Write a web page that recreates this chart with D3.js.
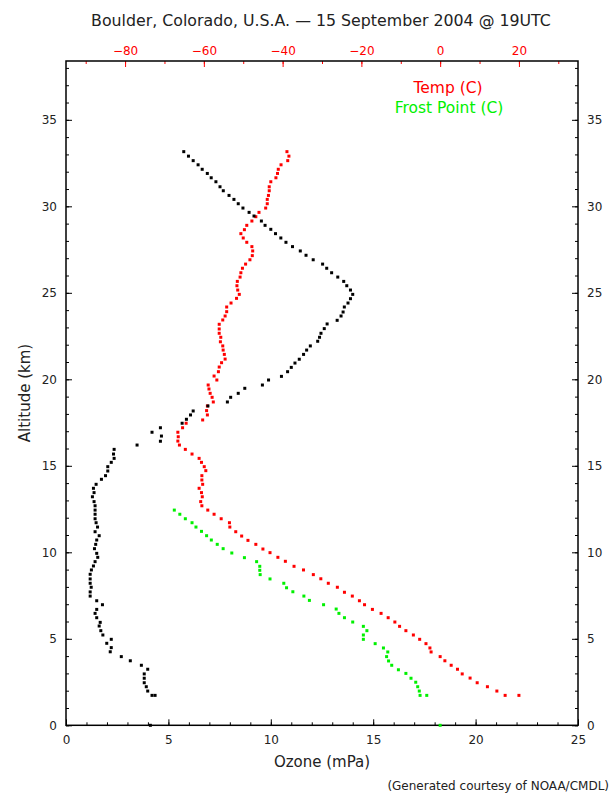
<!DOCTYPE html>
<html>
<head>
<meta charset="utf-8">
<script src="https://cdn.jsdelivr.net/npm/d3@7"></script>
<style>
  body { margin: 0; background: #fff; }
  text { font-family: "DejaVu Sans", sans-serif; }
</style>
</head>
<body>
<svg id="chart" width="611" height="794"></svg>
<script>
// ozone sounding (altitude km, ozone mPa)
var ozoneAlt = [33.16, 32.9, 32.64, 32.4, 32.14, 31.9, 31.65, 31.42, 31.13, 30.9, 30.63, 30.4, 30.15, 29.9, 29.65, 29.44, 29.15, 28.9, 28.67, 28.42, 28.17, 27.92, 27.67, 27.42, 27.17, 26.91, 26.66, 26.42, 26.16, 25.91, 25.66, 25.41, 25.16, 24.91, 24.66, 24.41, 24.18, 23.89, 23.66, 23.41, 23.2, 22.93, 22.66, 22.43, 22.2, 21.93, 21.69, 21.44, 21.16, 20.94, 20.69, 20.44, 20.17, 19.96, 19.67, 19.48, 19.19, 18.96, 18.69, 18.46, 18.17, 17.94, 17.69, 17.46, 17.2, 16.94, 16.72, 16.42, 16.2, 15.95, 15.68, 15.43, 15.2, 14.95, 14.7, 14.43, 14.22, 13.93, 13.7, 13.45, 13.21, 12.93, 12.69, 12.44, 12.2, 11.94, 11.71, 11.46, 11.19, 10.96, 10.71, 10.46, 10.21, 9.94, 9.71, 9.46, 9.21, 8.98, 8.73, 8.46, 8.21, 7.98, 7.71, 7.47, 7.2, 6.97, 6.7, 6.47, 6.22, 5.95, 5.74, 5.47, 5.22, 4.97, 4.74, 4.49, 4.25, 3.97, 3.73, 3.47, 3.24, 2.97, 2.72, 2.46, 2.23, 1.98, 1.73, 1.73, 0];
var ozoneVal = [5.75, 5.98, 6.21, 6.45, 6.65, 6.9, 7.09, 7.32, 7.52, 7.68, 7.96, 8.2, 8.41, 8.64, 8.94, 9.18, 9.54, 9.72, 10.0, 10.23, 10.49, 10.74, 11.06, 11.44, 11.72, 12.07, 12.53, 12.73, 12.97, 13.27, 13.56, 13.71, 13.89, 14.0, 13.89, 13.77, 13.59, 13.53, 13.43, 13.24, 12.75, 12.61, 12.45, 12.38, 12.29, 11.93, 11.75, 11.6, 11.39, 11.18, 11.0, 10.82, 10.52, 9.89, 9.59, 8.73, 8.41, 8.04, 7.88, 6.93, 6.21, 6.08, 5.88, 5.67, 4.61, 4.2, 4.66, 4.61, 3.47, 2.35, 2.32, 2.35, 2.21, 2.04, 2.04, 1.93, 1.73, 1.47, 1.34, 1.37, 1.29, 1.37, 1.42, 1.42, 1.42, 1.42, 1.47, 1.54, 1.42, 1.62, 1.5, 1.45, 1.39, 1.5, 1.55, 1.42, 1.34, 1.24, 1.18, 1.18, 1.18, 1.23, 1.18, 1.18, 1.5, 1.78, 1.5, 1.42, 1.5, 1.67, 1.62, 1.7, 1.8, 2.21, 1.99, 2.21, 2.16, 2.7, 3.14, 3.68, 3.99, 3.82, 3.82, 3.82, 3.92, 3.99, 4.2, 4.35, 4.12];

// temperature (C)
var tempAlt = [33.16, 32.9, 32.64, 32.4, 32.14, 31.9, 31.65, 31.42, 31.13, 30.9, 30.63, 30.4, 30.15, 29.9, 29.65, 29.4, 29.15, 28.9, 28.65, 28.42, 28.17, 27.92, 27.67, 27.42, 27.15, 26.91, 26.66, 26.42, 26.16, 25.91, 25.66, 25.41, 25.16, 24.91, 24.68, 24.41, 24.18, 23.91, 23.66, 23.43, 23.18, 22.91, 22.66, 22.43, 22.17, 21.93, 21.69, 21.44, 21.17, 20.96, 20.71, 20.44, 20.19, 19.96, 19.67, 19.44, 19.19, 18.96, 18.69, 18.46, 18.19, 17.94, 17.65, 17.46, 17.2, 16.94, 16.68, 16.43, 16.2, 15.95, 15.68, 15.43, 15.2, 14.95, 14.72, 14.43, 14.18, 13.93, 13.7, 13.45, 13.21, 12.93, 12.69, 12.44, 12.2, 11.94, 11.71, 11.46, 11.19, 10.94, 10.69, 10.46, 10.19, 9.98, 9.71, 9.48, 9.19, 8.98, 8.71, 8.47, 8.21, 7.98, 7.69, 7.47, 7.2, 6.97, 6.7, 6.47, 6.22, 5.97, 5.72, 5.47, 5.22, 4.97, 4.72, 4.47, 4.24, 3.97, 3.73, 3.47, 3.24, 2.97, 2.73, 2.46, 2.23, 1.98, 1.73, 1.73];
var tempVal = [-38.9, -38.4, -38.7, -40.4, -41.1, -41.3, -41.7, -43.0, -43.4, -43.4, -43.6, -43.9, -43.9, -44.3, -46.0, -46.8, -47.8, -49.1, -49.7, -50.6, -50.0, -49.1, -47.8, -47.6, -47.7, -48.3, -49.4, -50.2, -50.6, -50.8, -51.5, -51.6, -51.4, -51.0, -51.7, -53.1, -54.2, -54.2, -54.6, -55.2, -56.1, -56.1, -56.1, -55.7, -55.8, -55.2, -55.1, -54.8, -54.6, -55.5, -56.1, -56.3, -57.4, -56.7, -58.9, -58.7, -58.4, -57.9, -57.6, -59.1, -59.3, -59.1, -60.3, -64.5, -65.4, -66.6, -66.5, -66.6, -66.2, -64.7, -63.0, -61.2, -60.6, -59.9, -59.5, -60.5, -60.5, -60.3, -61.2, -60.6, -60.4, -60.8, -60.5, -59.0, -57.4, -55.6, -53.5, -53.4, -51.9, -50.4, -48.8, -46.8, -45.0, -43.2, -41.2, -39.3, -37.1, -34.7, -32.2, -30.3, -28.4, -26.1, -24.3, -22.3, -20.5, -19.2, -17.2, -15.0, -13.2, -11.5, -10.3, -8.7, -6.8, -5.2, -3.6, -2.6, -2.3, 0.0, 1.2, 2.8, 4.4, 5.6, 7.6, 9.4, 12.0, 14.4, 16.5, 20.0];

// frost point (C)
var frostAlt = [12.44, 12.2, 11.94, 11.71, 11.46, 11.21, 10.96, 10.71, 10.46, 10.21, 9.96, 9.69, 9.46, 9.19, 8.96, 8.71, 8.46, 8.21, 7.95, 7.72, 7.47, 7.22, 6.97, 6.72, 6.47, 6.22, 5.97, 5.72, 5.47, 5.22, 4.97, 4.72, 4.47, 4.24, 3.97, 3.72, 3.47, 3.21, 3.0, 2.72, 2.49, 2.23, 1.98, 1.73, 1.73, 0];
var frostVal = [-67.5, -66.1, -64.7, -63.0, -62.0, -60.6, -59.3, -58.1, -56.6, -55.1, -52.9, -49.7, -46.6, -45.8, -45.8, -45.7, -43.2, -39.7, -39.0, -37.4, -34.6, -33.2, -29.6, -26.4, -25.7, -24.3, -22.2, -19.5, -18.6, -19.5, -19.5, -16.5, -14.4, -13.3, -13.6, -13.1, -12.3, -10.6, -8.7, -7.4, -6.2, -5.7, -5.3, -5.1, -3.4, 0.0];

var altTicks = [0, 5, 10, 15, 20, 25, 30, 35];
var ozoneTicks = [0, 5, 10, 15, 20, 25];
var tempTicks = [-80, -60, -40, -20, 0, 20];

var svg = d3.select('#chart');
var plotLeft = 66, plotRight = 578, plotTop = 61, plotBottom = 725.3;

var x = d3.scaleLinear().domain([0, 25]).range([plotLeft, plotRight]);
var xt = d3.scaleLinear().domain([-95, 35]).range([plotLeft, plotRight]);
var y = d3.scaleLinear().domain([0, 38.4]).range([plotBottom, plotTop]);

function styleAxis(g, color) {
    g.select('.domain').remove();
    g.selectAll('line').attr('stroke', color);
    g.selectAll('text').attr('fill', color === '#000' ? '#222' : color).style('font-size', '12px');
}

// minor ticks first
svg.append('g').attr('transform', 'translate(0,' + plotBottom + ')')
    .call(d3.axisBottom(x).tickValues(d3.range(0, 26, 1)).tickSize(-3).tickFormat(''))
    .call(styleAxis, '#000');
svg.append('g').attr('transform', 'translate(' + plotLeft + ',0)')
    .call(d3.axisLeft(y).tickValues(d3.range(0, 39, 1)).tickSize(-3).tickFormat(''))
    .call(styleAxis, '#000');
svg.append('g').attr('transform', 'translate(' + plotRight + ',0)')
    .call(d3.axisRight(y).tickValues(d3.range(0, 39, 1)).tickSize(-3).tickFormat(''))
    .call(styleAxis, '#000');
svg.append('g').attr('transform', 'translate(0,' + plotTop + ')')
    .call(d3.axisTop(xt).tickValues(d3.range(-90, 40, 10)).tickSize(-3).tickFormat(''))
    .call(styleAxis, '#f00');

// major ticks with labels
svg.append('g').attr('transform', 'translate(0,' + plotBottom + ')')
    .call(d3.axisBottom(x).tickValues(ozoneTicks).tickSize(-6).tickPadding(10))
    .call(styleAxis, '#000');
svg.append('g').attr('transform', 'translate(' + plotLeft + ',0)')
    .call(d3.axisLeft(y).tickValues(altTicks).tickSize(-6).tickPadding(9))
    .call(styleAxis, '#000');
svg.append('g').attr('transform', 'translate(' + plotRight + ',0)')
    .call(d3.axisRight(y).tickValues(altTicks).tickSize(-6).tickPadding(9))
    .call(styleAxis, '#000');
svg.append('g').attr('transform', 'translate(0,' + plotTop + ')')
    .call(d3.axisTop(xt).tickValues(tempTicks).tickSize(-6).tickPadding(6).tickFormat(function(d) { return d < 0 ? '\u2212' + (-d) : d; }))
    .call(styleAxis, '#f00');

// frame
svg.append('rect').attr('x', plotLeft).attr('y', plotTop)
    .attr('width', plotRight - plotLeft).attr('height', plotBottom - plotTop)
    .attr('fill', 'none').attr('stroke', '#000').attr('stroke-width', 1.5);

function drawPoints(alts, vals, scale, color) {
    svg.append('g').selectAll('rect').data(alts).enter().append('rect')
        .attr('x', function(d, i) { return scale(vals[i]) - 1.5; })
        .attr('y', function(d) { return y(d) - 1.5; })
        .attr('width', 3).attr('height', 3)
        .attr('fill', color);
}
drawPoints(frostAlt, frostVal, xt, '#00f000');
drawPoints(tempAlt, tempVal, xt, '#ff0000');
drawPoints(ozoneAlt, ozoneVal, x, '#000');

// legend
svg.append('text').attr('x', 448).attr('y', 93).attr('text-anchor', 'middle')
    .style('font-size', '15.5px').attr('fill', '#f00').text('Temp (C)');
svg.append('text').attr('x', 449).attr('y', 113).attr('text-anchor', 'middle')
    .style('font-size', '15.5px').attr('fill', '#00f000').text('Frost Point (C)');

// titles
svg.append('text').attr('x', 321).attr('y', 26).attr('text-anchor', 'middle')
    .style('font-size', '15.8px').attr('fill', '#222')
    .text('Boulder, Colorado, U.S.A. \u2014 15 September 2004 @ 19UTC');
svg.append('text').attr('x', 322).attr('y', 767).attr('text-anchor', 'middle')
    .style('font-size', '15px').attr('fill', '#222').text('Ozone (mPa)');
svg.append('text').attr('transform', 'translate(30,393) rotate(-90)').attr('text-anchor', 'middle')
    .style('font-size', '15px').attr('fill', '#222').text('Altitude (km)');
svg.append('text').attr('x', 609).attr('y', 790).attr('text-anchor', 'end')
    .style('font-size', '12px').attr('fill', '#222').text('(Generated courtesy of NOAA/CMDL)');
</script>
</body>
</html>
